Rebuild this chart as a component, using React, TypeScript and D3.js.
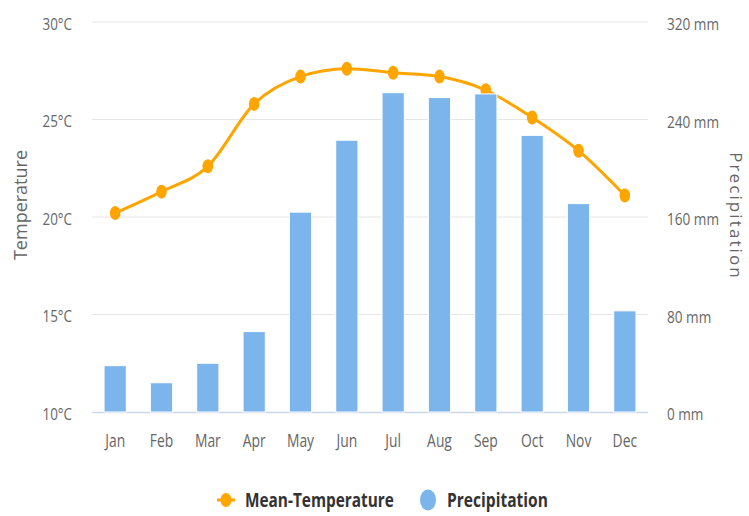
import React from "react";
import * as d3 from "d3";

const months = ["Jan", "Feb", "Mar", "Apr", "May", "Jun", "Jul", "Aug", "Sep", "Oct", "Nov", "Dec"];
const meanTemperature = [20.2, 21.3, 22.6, 25.8, 27.2, 27.6, 27.4, 27.2, 26.5, 25.1, 23.4, 21.1];
const precipitation = [38, 24, 40, 66, 164, 223, 262, 258, 261, 227, 171, 83];
const tempTicks = [10, 15, 20, 25, 30];
const precipTicks = [0, 80, 160, 240, 320];

const W = 749;
const H = 516;
const left = 92;
const right = 648;
const top = 22;
const bottom = 412;
const FONT = "'Open Sans', sans-serif";

export default function App() {
  const x = d3.scaleBand<string>().domain(months).range([left, right]).paddingInner(0.52).paddingOuter(0.26);
  const yT = d3.scaleLinear().domain([10, 30]).range([bottom, top]);
  const yP = d3.scaleLinear().domain([0, 320]).range([bottom, top]);
  const cx = (m: string) => (x(m) as number) + x.bandwidth() / 2;

  const line = d3
    .line<number>()
    .x((_, i) => cx(months[i]))
    .y((d) => yT(d))
    .curve(d3.curveMonotoneX);

  const sText = (
    key: string,
    tx: number,
    ty: number,
    label: string,
    anchor: string,
    size: number,
    color: string,
    sx: number,
    weight: string | number = "normal"
  ) => (
    <text
      key={key}
      transform={`translate(${tx},${ty}) scale(${sx},1)`}
      textAnchor={anchor}
      fontSize={size}
      fill={color}
      fontWeight={weight}
      fontFamily={FONT}
    >
      {label}
    </text>
  );

  return (
    <svg width={W} height={H} style={{ position: "absolute", left: 0, top: 0, background: "#fff" }}>
      {/* grid */}
      {tempTicks.slice(1).map((t) => (
        <line key={"g" + t} x1={left} x2={right} y1={yT(t)} y2={yT(t)} stroke="#e6e6e6" strokeWidth={1} />
      ))}
      <line x1={left} x2={right} y1={bottom + 0.5} y2={bottom + 0.5} stroke="#ccd6eb" strokeWidth={1.5} />

      {/* left ticks */}
      {tempTicks.map((t) => sText("lt" + t, 72, yT(t) + 7.5, `${t}°C`, "end", 17, "#666666", 0.79))}
      {/* right ticks */}
      {precipTicks.map((p) => sText("rt" + p, 667, yP(p) + 8, `${p} mm`, "start", 17, "#666666", 0.8))}
      {/* x labels */}
      {months.map((m) => sText("x" + m, cx(m), 447, m, "middle", 18, "#666666", 0.77))}

      {/* axis titles */}
      <text
        transform={`translate(27,205) rotate(-90)`}
        textAnchor="middle"
        fontSize={18}
        fill="#666666"
        fontFamily={FONT}
      >
        Temperature
      </text>
      <text
        transform={`translate(730,216) rotate(90)`}
        textAnchor="middle"
        fontSize={17}
        letterSpacing={2.1}
        fill="#666666"
        fontFamily={FONT}
      >
        Precipitation
      </text>

      {/* temperature line */}
      <path d={line(meanTemperature) || ""} fill="none" stroke="#FFA500" strokeWidth={3} />
      {meanTemperature.map((t, i) => (
        <ellipse key={"m" + i} cx={cx(months[i])} cy={yT(t)} rx={5.3} ry={7} fill="#FFA500" />
      ))}

      {/* bars */}
      {precipitation.map((p, i) => (
        <rect
          key={"b" + i}
          x={x(months[i])}
          y={yP(p)}
          width={x.bandwidth()}
          height={bottom - yP(p)}
          fill="#7CB5EC"
          stroke="#ffffff"
          strokeWidth={1}
        />
      ))}

      {/* legend */}
      <line x1={217} x2={235} y1={500} y2={500} stroke="#FFA500" strokeWidth={3} />
      <ellipse cx={226} cy={500} rx={5.5} ry={7} fill="#FFA500" />
      {sText("lg1", 245, 507, "Mean-Temperature", "start", 19, "#333333", 0.81, "bold")}
      <ellipse cx={428} cy={500} rx={8} ry={10.5} fill="#7CB5EC" />
      {sText("lg2", 447, 507, "Precipitation", "start", 19, "#333333", 0.82, "bold")}
    </svg>
  );
}
